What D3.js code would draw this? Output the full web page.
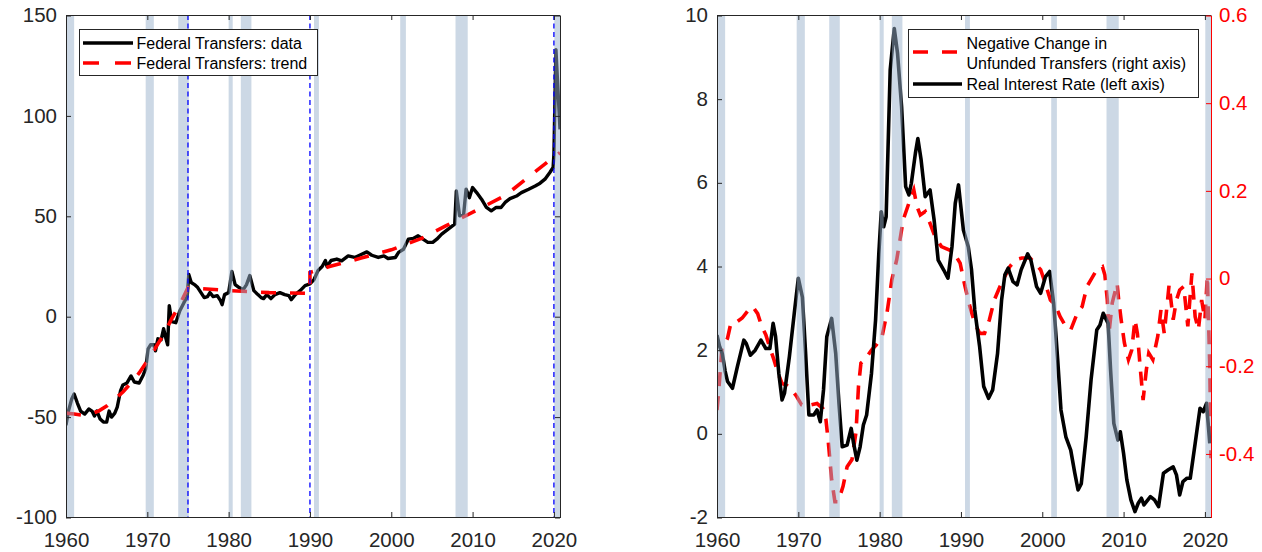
<!DOCTYPE html>
<html><head><meta charset="utf-8">
<script src="https://cdn.jsdelivr.net/npm/d3@7"></script>
<style>
html,body{margin:0;padding:0;background:#fff;}
svg{display:block;font-family:"Liberation Sans",Arial,Helvetica,sans-serif;}
</style></head><body>
<svg id="chart" width="1262" height="552"></svg>
<script>
// ---------------- DATA ----------------
const xTickYears = [1960, 1970, 1980, 1990, 2000, 2010, 2020];
const transfersTicks = [-100, -50, 0, 50, 100, 150];
const rateTicks = [-2, 0, 2, 4, 6, 8, 10];
const unfundedTicks = [-0.4, -0.2, 0, 0.2, 0.4, 0.6];

const recessionStarts = [1960.0, 1969.8, 1973.8, 1980.0, 1981.5, 1990.5, 2001.1, 2007.9, 2020.05];
const recessionEnds   = [1961.0, 1970.8, 1975.1, 1980.5, 1982.8, 1991.1, 2001.8, 2009.4, 2020.75];
const breakYears = [1975, 1990, 2020];

const transfersYears = [1960.0,1960.3,1960.7,1961.0,1961.4,1961.8,1962.3,1962.8,1963.2,1963.5,1963.8,1964.2,1964.6,1965.0,1965.3,1965.6,1966.0,1966.3,1966.7,1967.0,1967.5,1968.0,1968.4,1969.0,1969.5,1969.8,1970.1,1970.4,1970.8,1971.0,1971.3,1971.7,1972.0,1972.3,1972.5,1972.7,1973.0,1973.5,1974.0,1974.5,1974.9,1975.1,1975.4,1975.8,1976.2,1976.6,1977.0,1977.4,1977.7,1978.1,1978.6,1979.0,1979.2,1979.5,1980.0,1980.4,1980.8,1981.3,1981.8,1982.2,1982.6,1983.1,1983.6,1984.0,1984.3,1984.7,1985.2,1985.7,1986.3,1986.9,1987.4,1987.7,1988.2,1988.8,1989.4,1990.0,1990.5,1991.0,1991.5,1991.9,1992.1,1992.6,1993.3,1993.9,1994.7,1995.5,1996.1,1997.0,1997.6,1998.4,1999.1,1999.6,2000.5,2000.9,2001.5,2002.1,2002.7,2003.3,2003.9,2004.5,2005.1,2005.6,2006.2,2007.0,2007.8,2008.0,2008.4,2008.9,2009.2,2009.6,2010.0,2010.5,2011.1,2011.7,2012.3,2012.9,2013.5,2014.0,2014.6,2015.4,2016.0,2016.9,2017.7,2018.3,2018.9,2019.5,2019.9,2020.0,2020.25,2020.5,2020.75];
const transfersValues = [-54,-47,-41,-38.5,-43,-47,-48.5,-46,-47,-49.5,-47,-51,-52.5,-52.5,-47,-50,-48,-45,-37,-34,-33,-29.5,-32.5,-33,-29,-26,-16,-14,-14,-17,-11,-11.5,-6,-11,-14,5.5,-2.5,-3,3,7,10,21,17,16,14.5,12,9.5,10,12,10,10.5,8,6,11,12,22.5,16,14.5,13.5,16,20.5,13,11,9.5,9,11,9,11,12,11,10.5,8.5,11,13,15.5,16.3,18.5,23,25,28,25,28,28.7,27.8,30.3,29.5,30.6,32.3,30.6,29.5,30.3,29,29.5,32,33.6,38.6,39,40.3,38.6,37,37,38.6,41.1,43.6,46.1,62.6,50.2,51,63.5,59.3,64.3,61.8,58.5,54.4,52.7,54.4,54.4,56.9,58.8,60.1,61.8,63.5,65.1,66.5,68.5,71.8,74.3,80.9,133,113,93.3];

const trendYears  = [1960,1961,1962,1963,1964,1965,1966,1967,1968,1969,1970,1971,1972,1973,1974,1975,1980,1985,1990,1990,1992.4,1996.3,2000,2003.8,2006.7,2010.6,2014.1,2017.2,2019.8,2020.75];
const trendValues = [-48,-48.5,-49,-48.5,-47,-44.5,-41,-37.5,-33,-28,-22,-15.5,-9,-1,6,14.5,13,12,11.6,22,25,29.2,33.3,39.1,45.2,53.2,60.6,70.6,78.9,81.7];

const rateYears = [1960.0,1960.3,1960.65,1961.0,1961.3,1961.9,1962.5,1963.0,1963.3,1963.6,1964.1,1964.7,1965.4,1966.0,1966.5,1966.9,1967.2,1967.6,1968.0,1968.3,1968.9,1969.5,1970.0,1970.5,1970.9,1971.3,1971.9,1972.3,1972.7,1973.1,1973.5,1974.1,1974.6,1975.0,1975.4,1976.0,1976.5,1976.8,1977.2,1977.6,1978.0,1978.4,1979.0,1979.5,1979.9,1980.2,1980.5,1980.8,1981.3,1981.8,1982.2,1982.7,1983.2,1983.6,1983.9,1984.4,1984.7,1985.1,1985.6,1986.2,1986.7,1987.2,1987.9,1988.4,1988.9,1989.3,1989.7,1990.3,1990.9,1991.3,1991.7,1992.3,1992.8,1993.4,1993.9,1994.5,1995.0,1995.4,1995.8,1996.4,1996.9,1997.4,1998.2,1998.6,1999.3,1999.8,2000.4,2000.9,2001.4,2001.9,2002.3,2002.9,2003.5,2004.0,2004.4,2004.8,2005.4,2006.0,2006.7,2007.1,2007.5,2008.1,2008.4,2008.8,2009.3,2009.6,2010.0,2010.4,2010.9,2011.4,2011.8,2012.2,2012.5,2013.3,2013.8,2014.3,2014.9,2015.5,2016.1,2016.5,2016.9,2017.3,2017.8,2018.2,2018.8,2019.4,2019.8,2020.2,2020.6];
const rateValues = [2.36,2.1,1.92,1.5,1.25,1.09,1.6,2.0,2.24,2.16,1.88,2.0,2.24,2.04,2.04,2.64,2.33,1.45,0.81,0.97,1.84,2.88,3.72,3.27,1.92,0.45,0.45,0.57,0.29,1.05,2.32,2.76,1.92,0.73,-0.31,-0.27,0.13,-0.23,-0.63,-0.31,0.21,0.45,1.45,2.72,4.31,5.31,4.95,5.19,8.7,9.69,9.1,7.82,5.91,5.71,5.99,6.71,7.06,6.55,5.67,5.83,5.11,4.15,3.91,3.72,4.48,5.51,5.95,4.87,4.47,3.92,2.96,2.08,1.13,0.85,1.05,1.92,3.2,3.8,3.96,3.64,3.56,3.92,4.3,4.15,3.52,3.36,3.76,3.88,3.12,1.76,0.57,-0.07,-0.39,-0.94,-1.34,-1.19,-0.07,1.29,2.48,2.6,2.88,2.64,1.53,0.25,-0.15,0.05,-0.47,-1.1,-1.58,-1.86,-1.66,-1.54,-1.7,-1.5,-1.58,-1.74,-0.94,-0.86,-0.79,-0.98,-1.46,-1.14,-1.06,-1.06,-0.23,0.61,0.53,0.73,-0.23];

const unfundedYears = [1960.0,1960.2,1960.4,1960.6,1961.3,1961.7,1962.5,1963.1,1963.9,1964.4,1965.0,1965.5,1966.0,1966.6,1967.0,1967.5,1968.0,1968.6,1969.2,1969.8,1970.4,1971.0,1971.6,1972.3,1973.0,1973.4,1973.7,1974.1,1974.5,1974.9,1975.5,1976.0,1976.6,1977.1,1977.4,1977.7,1978.2,1979.0,1979.6,1980.3,1980.9,1981.5,1982.1,1982.5,1982.9,1983.6,1984.2,1984.6,1985.0,1985.6,1986.2,1986.8,1987.6,1988.6,1989.3,1989.9,1990.5,1991.1,1991.7,1992.3,1992.9,1993.5,1994.1,1994.8,1995.4,1996.0,1996.7,1997.5,1998.5,1999.1,1999.8,2000.3,2001.0,2001.6,2002.2,2002.8,2003.5,2004.3,2004.9,2005.5,2006.1,2006.7,2007.4,2007.7,2008.0,2008.2,2008.6,2009.2,2009.4,2009.7,2010.1,2010.6,2011.0,2011.4,2011.7,2012.0,2012.4,2012.8,2013.1,2013.6,2014.2,2014.6,2015.0,2015.6,2016.1,2016.5,2016.9,2017.4,2017.9,2018.4,2018.8,2019.2,2019.6,2020.0,2020.3,2020.6,2020.75];
const unfundedValues = [-0.3,-0.26,-0.21,-0.16,-0.136,-0.102,-0.098,-0.09,-0.071,-0.064,-0.08,-0.109,-0.128,-0.163,-0.185,-0.216,-0.239,-0.244,-0.254,-0.269,-0.288,-0.292,-0.288,-0.285,-0.296,-0.322,-0.375,-0.459,-0.509,-0.509,-0.474,-0.429,-0.413,-0.349,-0.246,-0.193,-0.185,-0.163,-0.151,-0.132,-0.079,-0.003,0.043,0.088,0.134,0.172,0.202,0.164,0.145,0.153,0.126,0.096,0.073,0.065,0.054,0.035,-0.018,-0.064,-0.102,-0.125,-0.125,-0.094,-0.049,-0.018,0.005,0.027,0.043,0.047,0.047,0.035,0.02,-0.007,-0.049,-0.06,-0.087,-0.106,-0.117,-0.079,-0.064,-0.018,0.001,0.02,0.027,0.008,-0.049,-0.125,-0.056,-0.011,-0.049,-0.094,-0.147,-0.185,-0.163,-0.094,-0.125,-0.193,-0.277,-0.208,-0.17,-0.185,-0.132,-0.071,-0.125,-0.014,-0.094,-0.049,-0.026,-0.018,-0.109,0.012,-0.087,-0.117,-0.049,-0.094,0.005,-0.2,-0.41];

// ---------------- DRAW ----------------
const svg = d3.select("#chart");
svg.append("rect").attr("width",1262).attr("height",552).attr("fill","#fff");

const AX = "#262626";
const SHADE = "rgb(153,178,204)";
const FS = 20.5;
const fmt = d => String(d);

function styleAxis(g, color, size, showText, dy){
  g.attr("font-family",null).attr("font-size",null);
  g.select(".domain").attr("stroke",color).attr("stroke-width",1);
  g.selectAll(".tick line").attr("stroke",color).attr("stroke-width",1);
  g.selectAll(".tick text").attr("fill",color).style("font-size",size+"px")
   .style("font-family",'"Liberation Sans",Arial,Helvetica,sans-serif');
  if(dy) g.selectAll(".tick text").attr("dy",dy);
  if(!showText) g.selectAll(".tick text").remove();
}

function makePanel(id, x0, x1, y0, y1){
  const g = svg.append("g");
  svg.append("defs").append("clipPath").attr("id",id).append("rect")
    .attr("x",x0).attr("y",y0).attr("width",x1-x0).attr("height",y1-y0);
  return g;
}

function recessions(g, x, y0, y1, clipId){
  g.append("g").attr("clip-path",`url(#${clipId})`).selectAll("rect")
    .data(recessionStarts.map((s,i)=>[s,recessionEnds[i]]))
    .join("rect")
    .attr("x",d=>x(d[0])).attr("width",d=>x(d[1])-x(d[0]))
    .attr("y",y0).attr("height",y1-y0)
    .attr("fill",SHADE).attr("fill-opacity",0.5);
}

// ---- LEFT PANEL ----
const L = {x0:66, x1:560, y0:15, y1:517};
const xL = d3.scaleLinear().domain([1960,2020.75]).range([L.x0,L.x1]);
const yL = d3.scaleLinear().domain([-100,150]).range([L.y1+0.5,L.y0+0.5]);
const gL = makePanel("clipL", L.x0, L.x1+1, L.y0, L.y1+1);
const plotL = gL.append("g").attr("clip-path","url(#clipL)");

const lineL = d3.line().x(d=>xL(d[0])).y(d=>yL(d[1]));
plotL.append("path")
  .attr("d", lineL(transfersYears.map((t,i)=>[t,transfersValues[i]])))
  .attr("fill","none").attr("stroke","#000").attr("stroke-width",3.4)
  .attr("stroke-linejoin","round");
plotL.append("path")
  .attr("d", lineL(trendYears.map((t,i)=>[t,trendValues[i]])))
  .attr("fill","none").attr("stroke","#ff0000").attr("stroke-width",3.6)
  .attr("stroke-dasharray","15,14");
recessions(gL, xL, L.y0, L.y1+1, "clipL");
gL.append("g").selectAll("line").data(breakYears).join("line")
  .attr("x1",d=>xL(d)).attr("x2",d=>xL(d)).attr("y1",L.y0).attr("y2",L.y1+1)
  .attr("stroke","#0000ff").attr("stroke-width",1.3).attr("stroke-dasharray","5,3.5");

gL.append("g").attr("transform",`translate(0,${L.y1})`)
  .call(d3.axisBottom(xL).tickValues(xTickYears).tickFormat(fmt).tickSizeInner(-5).tickSizeOuter(0).tickPadding(15.9))
  .call(g=>styleAxis(g,AX,FS,true));
gL.append("g").attr("transform",`translate(0,${L.y0})`)
  .call(d3.axisTop(xL).tickValues(xTickYears).tickFormat(fmt).tickSizeInner(-5).tickSizeOuter(0))
  .call(g=>styleAxis(g,AX,FS,false));
gL.append("g").attr("transform",`translate(${L.x0},0)`)
  .call(d3.axisLeft(yL).tickValues(transfersTicks).tickFormat(fmt).tickSizeInner(-5).tickSizeOuter(0).tickPadding(9))
  .call(g=>styleAxis(g,AX,FS,true,"0.3em"));
gL.append("g").attr("transform",`translate(${L.x1},0)`)
  .call(d3.axisRight(yL).tickValues(transfersTicks).tickFormat(fmt).tickSizeInner(-5).tickSizeOuter(0))
  .call(g=>styleAxis(g,AX,FS,false));

// left legend
const legL = svg.append("g");
legL.append("rect").attr("x",79.5).attr("y",29.5).attr("width",238).attr("height",46)
  .attr("fill","#fff").attr("stroke",AX).attr("stroke-width",1);
legL.append("line").attr("x1",83).attr("x2",133).attr("y1",43).attr("y2",43)
  .attr("stroke","#000").attr("stroke-width",3.6);
legL.append("line").attr("x1",83).attr("x2",133).attr("y1",63).attr("y2",63)
  .attr("stroke","#ff0000").attr("stroke-width",3.6).attr("stroke-dasharray","16,16");
legL.selectAll("text").data(["Federal Transfers: data","Federal Transfers: trend"]).join("text")
  .attr("x",136.5).attr("y",(d,i)=>43+20*i).attr("dy","0.36em")
  .style("font-size","16px").attr("fill","#000").text(d=>d);

// ---- RIGHT PANEL ----
const R = {x0:717, x1:1211, y0:15, y1:517};
const xR = d3.scaleLinear().domain([1960,2020.75]).range([R.x0,R.x1]);
const yR = d3.scaleLinear().domain([-2,10]).range([R.y1+0.5,R.y0+0.5]);
const yR2 = d3.scaleLinear().domain([-0.545,0.6]).range([R.y1+0.5,R.y0+0.5]);
const gR = makePanel("clipR", R.x0, R.x1+1, R.y0, R.y1+1);
const plotR = gR.append("g").attr("clip-path","url(#clipR)");

plotR.append("path")
  .attr("d", d3.line().x(d=>xR(d[0])).y(d=>yR2(d[1]))(unfundedYears.map((t,i)=>[t,unfundedValues[i]])))
  .attr("fill","none").attr("stroke","#ff0000").attr("stroke-width",3.6)
  .attr("stroke-dasharray","14,10");
plotR.append("path")
  .attr("d", d3.line().x(d=>xR(d[0])).y(d=>yR(d[1]))(rateYears.map((t,i)=>[t,rateValues[i]])))
  .attr("fill","none").attr("stroke","#000").attr("stroke-width",3.6)
  .attr("stroke-linejoin","round");
recessions(gR, xR, R.y0, R.y1+1, "clipR");

gR.append("g").attr("transform",`translate(0,${R.y1})`)
  .call(d3.axisBottom(xR).tickValues(xTickYears).tickFormat(fmt).tickSizeInner(-5).tickSizeOuter(0).tickPadding(15.9))
  .call(g=>styleAxis(g,AX,FS,true));
gR.append("g").attr("transform",`translate(0,${R.y0})`)
  .call(d3.axisTop(xR).tickValues(xTickYears).tickFormat(fmt).tickSizeInner(-5).tickSizeOuter(0))
  .call(g=>styleAxis(g,AX,FS,false));
gR.append("g").attr("transform",`translate(${R.x0},0)`)
  .call(d3.axisLeft(yR).tickValues(rateTicks).tickFormat(fmt).tickSizeInner(-5).tickSizeOuter(0).tickPadding(9))
  .call(g=>styleAxis(g,AX,FS,true,"0.3em"));
gR.append("g").attr("transform",`translate(${R.x1},0)`)
  .call(d3.axisRight(yR2).tickValues(unfundedTicks).tickFormat(fmt).tickSizeInner(-5).tickSizeOuter(0).tickPadding(8))
  .call(g=>styleAxis(g,"#ff0000",FS,true,"0.3em"));

// right legend
const legR = svg.append("g");
legR.append("rect").attr("x",908.5).attr("y",29.5).attr("width",290).attr("height",68)
  .attr("fill","#fff").attr("stroke",AX).attr("stroke-width",1);
legR.append("line").attr("x1",913).attr("x2",962).attr("y1",52).attr("y2",52)
  .attr("stroke","#ff0000").attr("stroke-width",3.6).attr("stroke-dasharray","15,14");
legR.append("line").attr("x1",913).attr("x2",962).attr("y1",84).attr("y2",84)
  .attr("stroke","#000").attr("stroke-width",3.6);
legR.selectAll("text").data([["Negative Change in",43],["Unfunded Transfers (right axis)",63],["Real Interest Rate (left axis)",84.5]]).join("text")
  .attr("x",966.5).attr("y",d=>d[1]).attr("dy","0.36em")
  .style("font-size","16px").attr("fill","#000").text(d=>d[0]);
</script>
</body></html>
